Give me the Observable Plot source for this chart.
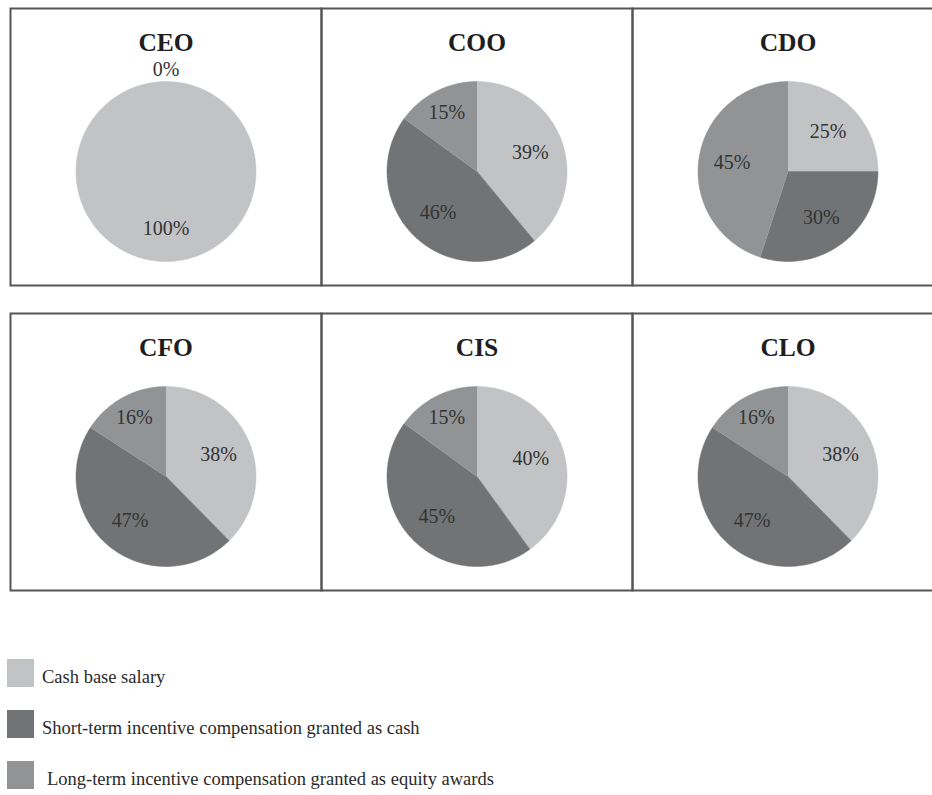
<!DOCTYPE html>
<html>
<head>
<meta charset="utf-8">
<script src="https://cdn.jsdelivr.net/npm/d3@7"></script>
<script src="https://cdn.jsdelivr.net/npm/@observablehq/plot@0.6"></script>
<style>
  html, body { margin: 0; padding: 0; background: #fff; overflow: hidden; }
  body { font-family: "Liberation Serif", "Times New Roman", serif; width: 932px; height: 795px; position: relative; }
  #chart svg { display: block; max-width: none !important; }
  .legend { position: absolute; left: 7px; top: 659px; }
  .legend .item { display: flex; align-items: center; height: 28px; margin-bottom: 23px; font-size: 18.5px; color: #2a2a2a; }
  .legend .sw { width: 27px; height: 28px; margin-right: 8px; flex: none; }
  .legend .lbl { position: relative; top: 4px; }
</style>
</head>
<body>
<div id="chart"></div>
<div class="legend" id="legend"></div>
<script>
// ---- data ----
const roles = ["CEO", "COO", "CDO", "CFO", "CIS", "CLO"];
const categories = [
  "Cash base salary",
  "Short-term incentive compensation granted as cash",
  "Long-term incentive compensation granted as equity awards"
];
const cashBase  = [100, 39, 25, 38, 40, 38];
const shortTerm = [0,   46, 30, 47, 45, 47];
const longTerm  = [0,   15, 45, 16, 15, 16];
const colors = ["#c2c3c5", "#727375", "#929395"];

// ---- build slice polygons and labels from the values ----
const series = [cashBase, shortTerm, longTerm];
const polys = [];
const labels = [];
const panels = [];
roles.forEach((role, i) => {
  const col = i % 3, row = Math.floor(i / 3);
  panels.push({role, col, row});
  const vals = categories.map((c, k) => ({category: c, value: series[k][i]}));
  const arcs = d3.pie().sort(null).value(d => d.value)(vals);
  let zeroShown = false;
  arcs.forEach((a, k) => {
    const v = a.data.value;
    if (v > 0) {
      const key = role + "-" + k;
      polys.push({key, category: a.data.category, col, row, x: 0, y: 0});
      const n = Math.max(2, Math.ceil((a.endAngle - a.startAngle) / 0.02));
      for (let j = 0; j <= n; j++) {
        const t = a.startAngle + (a.endAngle - a.startAngle) * j / n;
        polys.push({key, category: a.data.category, col, row, x: Math.sin(t), y: Math.cos(t)});
      }
      const mid = (a.startAngle + a.endAngle) / 2;
      const r = v >= 20 ? 0.63 : 0.74;
      labels.push({col, row, x: r * Math.sin(mid), y: r * Math.cos(mid), text: v + "%"});
    } else if (!zeroShown) {
      zeroShown = true;
      const t = a.startAngle;
      labels.push({col, row, x: 1.13 * Math.sin(t), y: 1.13 * Math.cos(t), text: v + "%"});
    }
  });
});

const R = 90;            // pie radius in px
const cellW = 311, cellH = 277, cy = 163;

const chart = Plot.plot({
  width: 932,
  height: 592,
  marginLeft: 10,
  marginRight: -11,
  marginTop: 8,
  marginBottom: 2,
  style: {fontFamily: "'Liberation Serif', 'Times New Roman', serif", background: "#fff"},
  fx: {domain: [0, 1, 2], axis: null, paddingInner: 0, paddingOuter: 0},
  fy: {domain: [0, 1], axis: null, paddingInner: 28 / 305, paddingOuter: 0},
  x: {domain: [-cellW / 2 / R, cellW / 2 / R], axis: null},
  y: {domain: [-(cellH - cy) / R, cy / R], axis: null},
  color: {domain: categories, range: colors},
  marks: [
    Plot.line(polys, {x: "x", y: "y", z: "key", fill: "category", stroke: "category", strokeWidth: 0.5, curve: "linear", fx: "col", fy: "row"}),
    Plot.text(labels, {x: "x", y: "y", text: "text", fx: "col", fy: "row", fontSize: 20, fill: "#333"}),
    Plot.text(panels, {text: "role", fx: "col", fy: "row", frameAnchor: "top", lineAnchor: "middle", dy: 34, fontSize: 25.5, fontWeight: "bold", fill: "#1e1e1e"}),
    Plot.frame({stroke: "#555", strokeWidth: 2})
  ]
});
document.getElementById("chart").appendChild(chart);

// ---- legend ----
const leg = document.getElementById("legend");
categories.forEach((c, k) => {
  const item = document.createElement("div");
  item.className = "item";
  const sw = document.createElement("div");
  sw.className = "sw";
  sw.style.background = colors[k];
  const lbl = document.createElement("span");
  lbl.className = "lbl";
  lbl.textContent = c;
  if (k === 2) lbl.style.marginLeft = "5px";
  item.appendChild(sw);
  item.appendChild(lbl);
  leg.appendChild(item);
});
</script>
</body>
</html>
